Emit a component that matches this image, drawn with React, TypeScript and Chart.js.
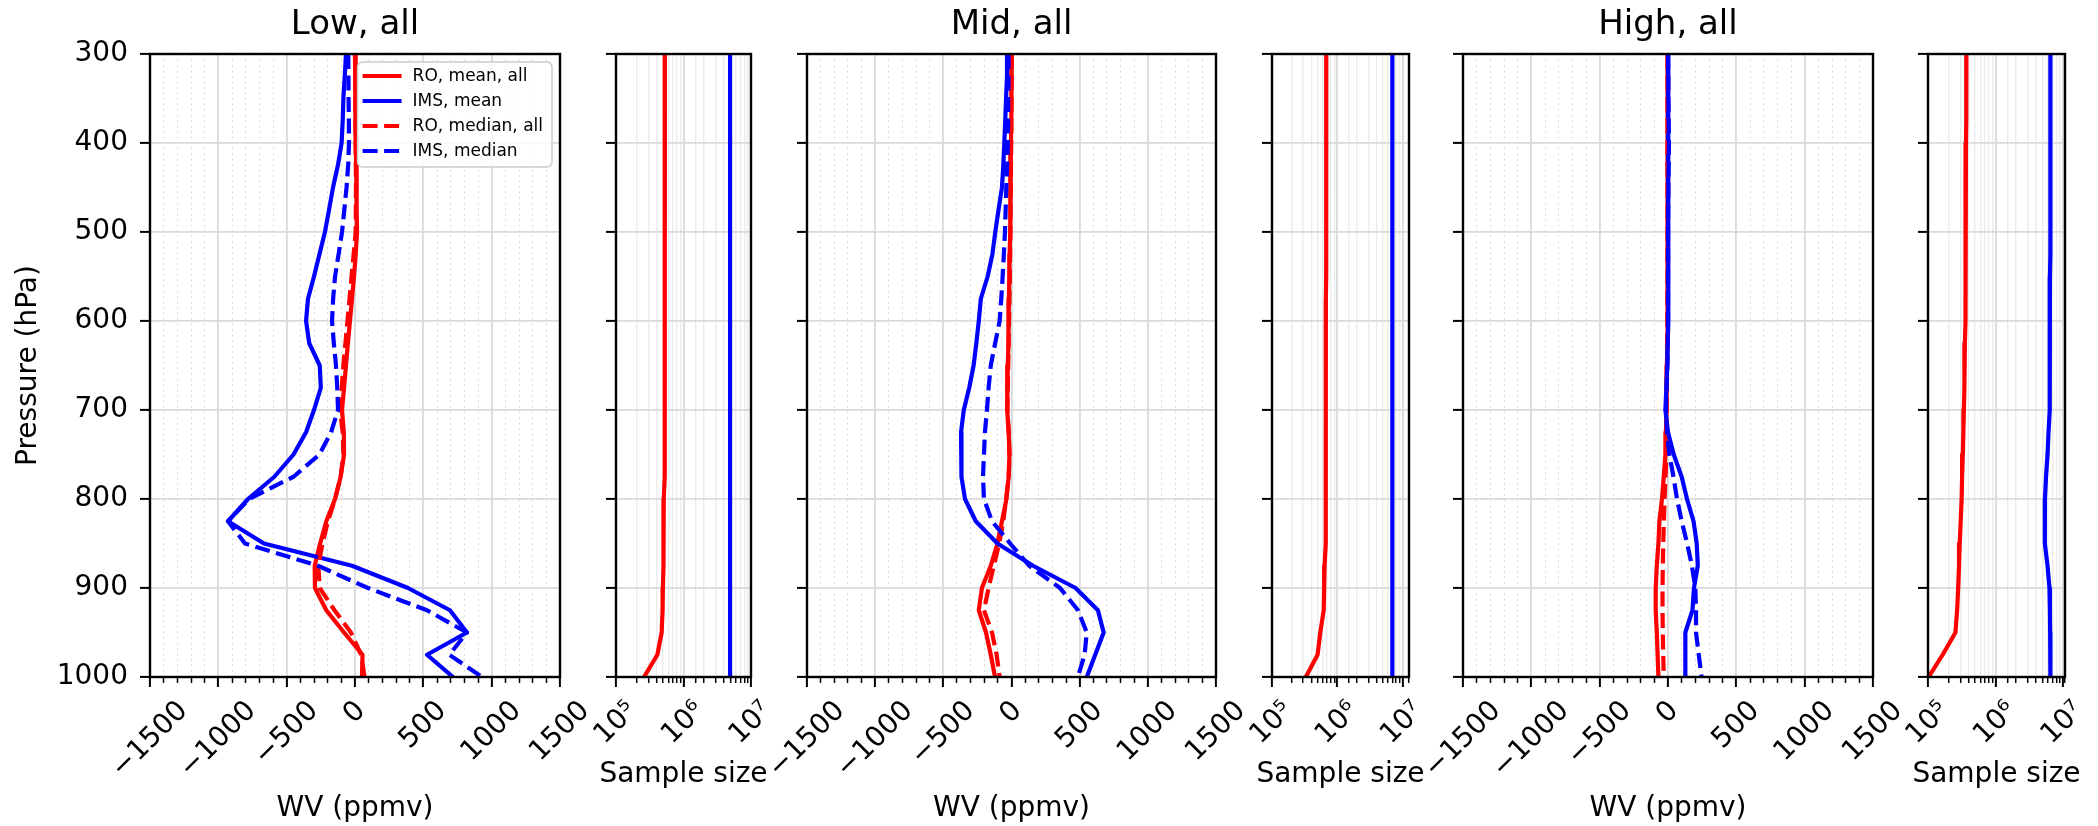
import React, { useEffect, useRef } from 'react';
import { Chart, registerables } from 'chart.js';

Chart.register(...registerables);

const FONT = '"DejaVu Sans", "Liberation Sans", Arial, sans-serif';
Chart.defaults.font.family = FONT;
Chart.defaults.color = '#000';

// ---------------- data ----------------
const PRESSURE_HPA = [300, 325, 350, 375, 400, 425, 450, 475, 500, 525, 550, 575, 600, 625, 650, 675, 700, 725, 750, 775, 800, 825, 850, 875, 900, 925, 950, 975, 1000];

const PRESSURE_MIN = 300;
const PRESSURE_MAX = 1000;
const PRESSURE_TICKS = [300, 400, 500, 600, 700, 800, 900, 1000];
const PRESSURE_TICK_LABELS = ['300', '400', '500', '600', '700', '800', '900', '1000'];

const WV_MIN = -1500;
const WV_MAX = 1500;
const WV_TICK_VALUES = [-1500, -1000, -500, 0, 500, 1000, 1500];
const WV_TICK_LABELS = ['\u22121500', '\u22121000', '\u2212500', '0', '500', '1000', '1500'];

const COUNT_TICK_VALUES = [1e5, 1e6, 1e7];
const COUNT_TICK_LABELS = ['10\u2075', '10\u2076', '10\u2077'];
const COUNT_MIN = 1e5;
const LOW_COUNT_MAX = 1e7;
const MID_COUNT_MAX = 1.26e7;
const HIGH_COUNT_MAX = 1.07e7;

const PANEL_TITLES = ['Low, all', 'Mid, all', 'High, all'];
const SERIES_LABELS = ['RO, mean, all', 'IMS, mean', 'RO, median, all', 'IMS, median'];
const COUNT_LABELS = ['RO, sample size', 'IMS, sample size'];
const WV_AXIS_TITLE = 'WV (ppmv)';
const COUNT_AXIS_TITLE = 'Sample size';
const PRESSURE_AXIS_TITLE = 'Pressure (hPa)';

// Low
const LOW_RO_MEAN = [0, 2, 4, 5, 7, 9, 11, 13, 15, 5, -7, -22, -37, -52, -66, -80, -95, -82, -80, -105, -146, -210, -255, -295, -293, -210, -80, 55, 51];
const LOW_IMS_MEAN = [-66, -75, -85, -90, -98, -125, -161, -190, -220, -260, -300, -344, -358, -335, -258, -250, -300, -358, -450, -590, -783, -929, -666, -22, 388, 695, 819, 527, 717];
const LOW_RO_MEDIAN = [0, 2, 3, 4, 5, 6, 7, 6, 5, -10, -25, -40, -55, -70, -85, -97, -110, -90, -85, -105, -146, -198, -238, -268, -258, -150, -30, 45, 70];
const LOW_IMS_MEDIAN = [-49, -48, -47, -45, -44, -50, -62, -78, -95, -120, -146, -160, -168, -155, -139, -130, -124, -175, -260, -450, -776, -929, -805, -271, 95, 527, 819, 690, 930];
const LOW_RO_COUNT = [5.3e5, 5.3e5, 5.3e5, 5.3e5, 5.3e5, 5.3e5, 5.3e5, 5.3e5, 5.3e5, 5.3e5, 5.3e5, 5.3e5, 5.3e5, 5.3e5, 5.3e5, 5.25e5, 5.2e5, 5.2e5, 5.2e5, 5.15e5, 5.1e5, 5.1e5, 5.05e5, 5.0e5, 4.95e5, 4.9e5, 4.75e5, 4.1e5, 2.6e5];
const LOW_IMS_COUNT = [4.9e6, 4.9e6, 4.9e6, 4.9e6, 4.9e6, 4.9e6, 4.9e6, 4.9e6, 4.9e6, 4.9e6, 4.9e6, 4.9e6, 4.9e6, 4.9e6, 4.9e6, 4.9e6, 4.9e6, 4.9e6, 4.9e6, 4.9e6, 4.9e6, 4.9e6, 4.9e6, 4.9e6, 4.9e6, 4.9e6, 4.9e6, 4.9e6, 4.9e6];

// Mid
const MID_RO_MEAN = [2, 0, -1, -3, -4, -6, -8, -10, -11, -14, -16, -19, -21, -24, -27, -30, -33, -21, -15, -21, -37, -70, -103, -152, -217, -240, -187, -152, -121];
const MID_IMS_MEAN = [-27, -33, -40, -46, -53, -60, -70, -95, -119, -140, -175, -225, -240, -258, -278, -310, -350, -370, -370, -364, -341, -262, -103, 158, 470, 634, 676, 614, 552];
const MID_RO_MEDIAN = [2, 1, 0, -1, -2, -4, -5, -7, -8, -10, -12, -15, -18, -21, -24, -27, -30, -20, -15, -20, -40, -60, -90, -130, -168, -202, -143, -109, -87];
const MID_IMS_MEDIAN = [-21, -22, -24, -25, -27, -32, -38, -43, -48, -56, -65, -75, -87, -120, -152, -168, -180, -195, -202, -209, -202, -143, -10, 130, 356, 488, 552, 536, 487];
const MID_RO_COUNT = [6.8e5, 6.8e5, 6.8e5, 6.8e5, 6.8e5, 6.8e5, 6.8e5, 6.75e5, 6.75e5, 6.75e5, 6.75e5, 6.7e5, 6.7e5, 6.7e5, 6.7e5, 6.7e5, 6.7e5, 6.7e5, 6.7e5, 6.7e5, 6.7e5, 6.6e5, 6.5e5, 6.4e5, 6.3e5, 6.2e5, 5.5e5, 5.0e5, 3.3e5];
const MID_IMS_COUNT = [7.0e6, 7.0e6, 7.0e6, 7.0e6, 7.0e6, 7.0e6, 7.0e6, 7.0e6, 7.0e6, 7.0e6, 7.0e6, 7.0e6, 7.0e6, 7.0e6, 7.0e6, 7.0e6, 7.0e6, 7.0e6, 7.0e6, 7.0e6, 7.0e6, 7.0e6, 7.0e6, 7.0e6, 7.0e6, 7.0e6, 7.0e6, 7.0e6, 7.0e6];

// High
const HIGH_RO_MEAN = [-3, -3, -3, -3, -3, -3, -3, -3, -3, -3, -3, -4, -5, -6, -8, -10, -12, -15, -19, -31, -44, -63, -70, -82, -90, -90, -82, -76, -70];
const HIGH_IMS_MEAN = [0, 2, 3, 5, 7, 5, 3, 1, 0, 0, 0, 0, 0, -2, -5, -12, -19, 0, 42, 100, 139, 187, 210, 218, 190, 179, 127, 127, 127];
const HIGH_RO_MEDIAN = [-3, -3, -3, -3, -3, -3, -3, -3, -3, -3, -3, -4, -5, -6, -7, -8, -10, -11, -12, -18, -25, -30, -35, -38, -40, -40, -38, -35, -31];
const HIGH_IMS_MEDIAN = [0, 2, 3, 5, 7, 5, 3, 1, 0, 0, 0, 0, 0, -2, -5, -10, -15, -7, 10, 40, 66, 100, 140, 175, 200, 205, 205, 225, 246];
const HIGH_RO_COUNT = [3.7e5, 3.7e5, 3.7e5, 3.68e5, 3.65e5, 3.64e5, 3.62e5, 3.61e5, 3.6e5, 3.59e5, 3.58e5, 3.57e5, 3.55e5, 3.52e5, 3.48e5, 3.44e5, 3.4e5, 3.34e5, 3.28e5, 3.2e5, 3.15e5, 3.05e5, 2.95e5, 2.88e5, 2.8e5, 2.7e5, 2.55e5, 1.65e5, 1.02e5];
const HIGH_IMS_COUNT = [6.5e6, 6.5e6, 6.5e6, 6.5e6, 6.5e6, 6.5e6, 6.5e6, 6.5e6, 6.5e6, 6.5e6, 6.4e6, 6.4e6, 6.4e6, 6.38e6, 6.35e6, 6.32e6, 6.3e6, 6.1e6, 5.9e6, 5.6e6, 5.4e6, 5.35e6, 5.4e6, 5.9e6, 6.3e6, 6.4e6, 6.45e6, 6.5e6, 6.5e6];

// ---------------- styles / layout ----------------
const RED = '#ff0000';
const BLUE = '#0000ff';
const LINE_W = 4.2;
const DASH = [15, 6.5];
const MAJOR_GRID = '#dadada';
const MINOR_GRID_LOG = '#ececec';
const MINOR_GRID_DOT = '#dadada';
const TRANSPARENT = 'rgba(0,0,0,0)';
const TICK_FONT = 28;
const TITLE_FONT = 34;
const FIG_W = 2098;
const FIG_H = 826;
const PLOT_BOTTOM = 677;
const PLOT_TOP = 54;

type Geom = { canvasLeft: number; canvasRight: number; plotLeft: number; plotRight: number };

const toPoints = (vals: number[]) => PRESSURE_HPA.map((p, i) => ({ x: vals[i], y: p }));

function framePlugin() {
  return {
    id: 'frame',
    afterDatasetsDraw(chart: any) {
      const { ctx, chartArea: a } = chart;
      ctx.save();
      ctx.strokeStyle = '#000';
      ctx.lineWidth = 2.4;
      ctx.strokeRect(a.left, a.top, a.right - a.left, a.bottom - a.top);
      ctx.restore();
    },
  };
}

function tickLabelPlugin(values: number[], labels: string[]) {
  return {
    id: 'rotTicks',
    afterDraw(chart: any) {
      const scale = chart.scales.x;
      const { ctx, chartArea } = chart;
      ctx.save();
      ctx.font = `${TICK_FONT}px ${FONT}`;
      ctx.fillStyle = '#000';
      ctx.textAlign = 'center';
      ctx.textBaseline = 'middle';
      const h = TICK_FONT * 1.16;
      values.forEach((v, i) => {
        const x = scale.getPixelForValue(v);
        const w = ctx.measureText(labels[i]).width;
        const cy = chartArea.bottom + 18 + ((w + h) * Math.SQRT1_2) / 2;
        ctx.save();
        ctx.translate(x, cy);
        ctx.rotate(-Math.PI / 4);
        ctx.fillText(labels[i], 0, 0);
        ctx.restore();
      });
      ctx.restore();
    },
  };
}

// x-axis title drawn without the squeezing that Chart.js applies when the text is wider than the axis
function axisTitlePlugin(text: string, centerY: number) {
  return {
    id: 'axisTitle',
    afterDraw(chart: any) {
      const { ctx, chartArea } = chart;
      ctx.save();
      ctx.font = `${TICK_FONT}px ${FONT}`;
      ctx.fillStyle = '#000';
      ctx.textAlign = 'center';
      ctx.textBaseline = 'middle';
      ctx.fillText(text, (chartArea.left + chartArea.right) / 2, centerY);
      ctx.restore();
    },
  };
}

function legendPlugin() {
  return {
    id: 'boxLegend',
    afterDraw(chart: any) {
      const { ctx, chartArea } = chart;
      const ds = chart.data.datasets;
      ctx.save();
      ctx.font = `17px ${FONT}`;
      const textW = Math.max(...ds.map((d: any) => ctx.measureText(d.label).width));
      const lineLen = 39;
      const w = 5 + lineLen + 11 + textW + 9;
      const h = 105;
      const right = chartArea.right - 8;
      const top = chartArea.top + 8;
      const left = right - w;
      ctx.beginPath();
      ctx.roundRect(left, top, w, h, 5);
      ctx.fillStyle = 'rgba(255,255,255,0.8)';
      ctx.fill();
      ctx.strokeStyle = '#cccccc';
      ctx.lineWidth = 1.5;
      ctx.stroke();
      ds.forEach((d: any, i: number) => {
        const y = top + 14 + i * 25;
        ctx.beginPath();
        ctx.setLineDash(d.borderDash || []);
        ctx.strokeStyle = d.borderColor;
        ctx.lineWidth = d.borderWidth;
        ctx.moveTo(left + 5, y);
        ctx.lineTo(left + 5 + lineLen, y);
        ctx.stroke();
        ctx.setLineDash([]);
        ctx.fillStyle = '#000';
        ctx.textAlign = 'left';
        ctx.textBaseline = 'middle';
        ctx.fillText(d.label, left + 5 + lineLen + 11, y + 1);
      });
      ctx.restore();
    },
  };
}

function lineDataset(label: string, vals: number[], color: string, dashed: boolean, order: number) {
  return {
    label,
    data: toPoints(vals),
    borderColor: color,
    backgroundColor: color,
    borderWidth: LINE_W,
    borderDash: dashed ? DASH : [],
    borderJoinStyle: 'round',
    borderCapStyle: 'butt',
    pointRadius: 0,
    tension: 0,
    fill: false,
    order,
    xAxisID: 'x',
    yAxisID: 'y',
  };
}

function yAxis(g: Geom, showLabels: boolean) {
  return {
    type: 'linear',
    position: 'left',
    min: PRESSURE_MIN,
    max: PRESSURE_MAX,
    reverse: true,
    afterBuildTicks: (s: any) => {
      s.ticks = PRESSURE_TICKS.map((v) => ({ value: v }));
    },
    afterFit: (s: any) => {
      s.width = g.plotLeft - g.canvasLeft;
    },
    ticks: {
      display: showLabels,
      autoSkip: false,
      color: '#000',
      font: { size: TICK_FONT, family: FONT },
      padding: 12,
      callback: (_v: any, i: number) => PRESSURE_TICK_LABELS[i],
    },
    grid: { color: MAJOR_GRID, lineWidth: 1.8, tickColor: '#000', tickLength: 10, tickWidth: 2, drawTicks: true },
    border: { display: false },
    title: {
      display: showLabels,
      text: PRESSURE_AXIS_TITLE,
      color: '#000',
      font: { size: TICK_FONT, family: FONT },
      padding: { top: 12, bottom: 0 },
    },
  };
}

function baseOptions(g: Geom, hasTitle: boolean, title: string) {
  return {
    animation: false,
    responsive: false,
    devicePixelRatio: 1,
    indexAxis: 'y',
    events: [],
    layout: { padding: { top: hasTitle ? 0 : PLOT_TOP, left: 0, right: g.canvasRight - g.plotRight, bottom: 0 } },
    plugins: {
      legend: { display: false },
      tooltip: { enabled: false },
      title: {
        display: hasTitle,
        text: title,
        fullSize: false,
        color: '#000',
        font: { size: TITLE_FONT, family: FONT, weight: 'normal' },
        padding: { top: 5, bottom: 8.2 },
      },
    },
  };
}

function wvConfig(g: Geom, title: string, series: number[][], showY: boolean, showLegend: boolean) {
  const plugins: any[] = [framePlugin(), tickLabelPlugin(WV_TICK_VALUES, WV_TICK_LABELS)];
  if (showLegend) plugins.push(legendPlugin());
  const isMajor = (c: any) => c && c.tick && Math.abs(c.tick.value) % 500 === 0;
  return {
    type: 'line',
    data: {
      datasets: [
        lineDataset(SERIES_LABELS[0], series[0], RED, false, 3),
        lineDataset(SERIES_LABELS[1], series[1], BLUE, false, 2),
        lineDataset(SERIES_LABELS[2], series[2], RED, true, 1),
        lineDataset(SERIES_LABELS[3], series[3], BLUE, true, 0),
      ],
    },
    options: {
      ...baseOptions(g, true, title),
      scales: {
        x: {
          type: 'linear',
          position: 'bottom',
          weight: 1,
          min: WV_MIN,
          max: WV_MAX,
          afterBuildTicks: (s: any) => {
            s.ticks = WV_TICK_VALUES.map((v) => ({ value: v }));
          },
          afterFit: (s: any) => {
            s.height = FIG_H - PLOT_BOTTOM;
          },
          ticks: { display: false },
          grid: { color: MAJOR_GRID, lineWidth: 1.8, tickColor: '#000', tickLength: 10, tickWidth: 2 },
          border: { display: false },
          title: {
            display: true,
            text: WV_AXIS_TITLE,
            color: '#000',
            font: { size: TICK_FONT, family: FONT },
            padding: { top: 0, bottom: 0 },
          },
        },
        x2: {
          type: 'linear',
          position: 'bottom',
          weight: 0,
          min: WV_MIN,
          max: WV_MAX,
          afterFit: (s: any) => {
            s.height = 0;
          },
          ticks: { display: false, stepSize: 100 },
          grid: {
            color: (c: any) => (isMajor(c) ? TRANSPARENT : MINOR_GRID_DOT),
            lineWidth: 1,
            tickColor: (c: any) => (isMajor(c) ? TRANSPARENT : '#000'),
            tickLength: 6,
            tickWidth: 1.5,
            tickBorderDash: [],
          },
          border: { display: false, dash: [2, 3.5] },
        },
        y: yAxis(g, showY),
      },
    },
    plugins,
  };
}

function countConfig(g: Geom, ro: number[], ims: number[], max: number) {
  const isMajor = (c: any) => c && c.tick && COUNT_TICK_VALUES.includes(c.tick.value);
  return {
    type: 'line',
    data: {
      datasets: [lineDataset(COUNT_LABELS[0], ro, RED, false, 1), lineDataset(COUNT_LABELS[1], ims, BLUE, false, 0)],
    },
    options: {
      ...baseOptions(g, false, ''),
      scales: {
        x: {
          type: 'logarithmic',
          position: 'bottom',
          weight: 1,
          min: COUNT_MIN,
          max,
          afterBuildTicks: (s: any) => {
            s.ticks = s.ticks.filter((t: any) => COUNT_TICK_VALUES.includes(t.value));
          },
          afterFit: (s: any) => {
            s.height = FIG_H - PLOT_BOTTOM;
          },
          ticks: { display: false },
          grid: { color: MAJOR_GRID, lineWidth: 1.8, tickColor: '#000', tickLength: 10, tickWidth: 2 },
          border: { display: false },
          title: { display: false },
        },
        x2: {
          type: 'logarithmic',
          position: 'bottom',
          weight: 0,
          min: COUNT_MIN,
          max,
          afterFit: (s: any) => {
            s.height = 0;
          },
          ticks: { display: false },
          grid: {
            color: (c: any) => (isMajor(c) ? TRANSPARENT : MINOR_GRID_LOG),
            lineWidth: 1.4,
            tickColor: (c: any) => (isMajor(c) ? TRANSPARENT : '#000'),
            tickLength: 6,
            tickWidth: 1.5,
            tickBorderDash: [],
          },
          border: { display: false },
        },
        y: yAxis(g, false),
      },
    },
    plugins: [framePlugin(), tickLabelPlugin(COUNT_TICK_VALUES, COUNT_TICK_LABELS), axisTitlePlugin(COUNT_AXIS_TITLE, 775)],
  };
}

function ChartPanel({ geom, build }: { geom: Geom; build: () => any }) {
  const ref = useRef<HTMLCanvasElement | null>(null);
  const width = geom.canvasRight - geom.canvasLeft;
  useEffect(() => {
    const chart = new Chart(ref.current as HTMLCanvasElement, build());
    return () => chart.destroy();
  }, []);
  return (
    <canvas
      ref={ref}
      width={width}
      height={FIG_H}
      style={{ position: 'absolute', left: geom.canvasLeft, top: 0, width, height: FIG_H }}
    />
  );
}

const G1: Geom = { canvasLeft: 0, canvasRight: 612, plotLeft: 150, plotRight: 560 };
const G2: Geom = { canvasLeft: 560, canvasRight: 808, plotLeft: 616, plotRight: 751 };
const G3: Geom = { canvasLeft: 752, canvasRight: 1268, plotLeft: 807, plotRight: 1216 };
const G4: Geom = { canvasLeft: 1216, canvasRight: 1462, plotLeft: 1272, plotRight: 1409 };
const G5: Geom = { canvasLeft: 1408, canvasRight: 1926, plotLeft: 1463, plotRight: 1873 };
const G6: Geom = { canvasLeft: 1872, canvasRight: FIG_W, plotLeft: 1928, plotRight: 2065 };

export default function App() {
  return (
    <div style={{ position: 'absolute', left: 0, top: 0, width: FIG_W, height: FIG_H, background: '#ffffff', overflow: 'hidden' }}>
      <ChartPanel geom={G1} build={() => wvConfig(G1, PANEL_TITLES[0], [LOW_RO_MEAN, LOW_IMS_MEAN, LOW_RO_MEDIAN, LOW_IMS_MEDIAN], true, true)} />
      <ChartPanel geom={G2} build={() => countConfig(G2, LOW_RO_COUNT, LOW_IMS_COUNT, LOW_COUNT_MAX)} />
      <ChartPanel geom={G3} build={() => wvConfig(G3, PANEL_TITLES[1], [MID_RO_MEAN, MID_IMS_MEAN, MID_RO_MEDIAN, MID_IMS_MEDIAN], false, false)} />
      <ChartPanel geom={G4} build={() => countConfig(G4, MID_RO_COUNT, MID_IMS_COUNT, MID_COUNT_MAX)} />
      <ChartPanel geom={G5} build={() => wvConfig(G5, PANEL_TITLES[2], [HIGH_RO_MEAN, HIGH_IMS_MEAN, HIGH_RO_MEDIAN, HIGH_IMS_MEDIAN], false, false)} />
      <ChartPanel geom={G6} build={() => countConfig(G6, HIGH_RO_COUNT, HIGH_IMS_COUNT, HIGH_COUNT_MAX)} />
    </div>
  );
}
